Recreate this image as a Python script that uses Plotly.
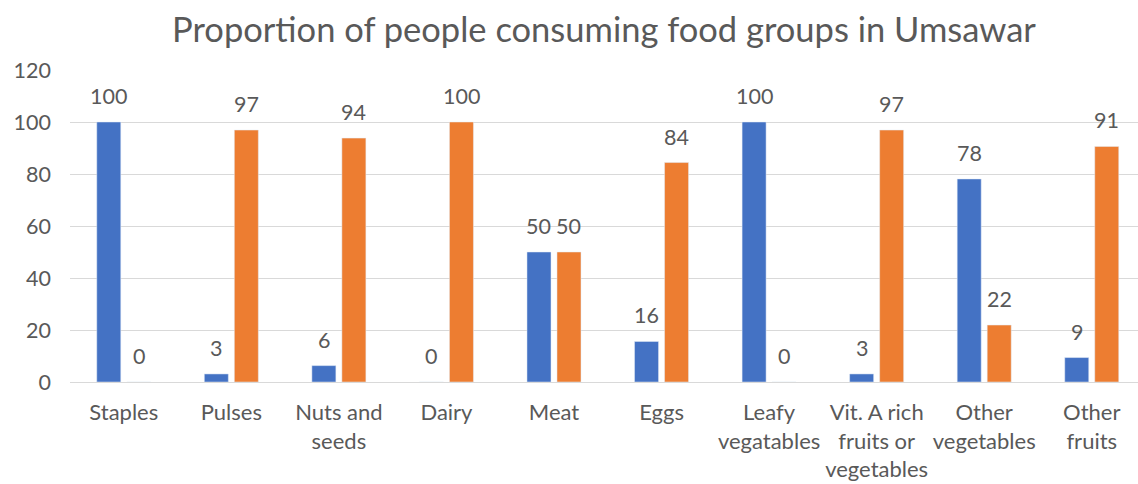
import plotly.graph_objects as go

categories = ["Staples", "Pulses", "Nuts and<br>seeds", "Dairy", "Meat", "Eggs",
              "Leafy<br>vegatables", "Vit. A rich<br>fruits or<br>vegetables",
              "Other<br>vegetables", "Other<br>fruits"]
series_a = [100, 3.1, 6.3, 0, 50, 15.6, 100, 3.1, 78.1, 9.4]
series_b = [0, 96.9, 93.8, 100, 50, 84.4, 0, 96.9, 21.9, 90.6]
y_ticks = [0, 20, 40, 60, 80, 100, 120]

BLUE = "#4472C4"
ORANGE = "#ED7D31"
TXT = "#595959"
FONT = "Lato"

fig = go.Figure()
fig.add_trace(go.Bar(x=categories, y=series_a, marker_color=BLUE, name="A"))
fig.add_trace(go.Bar(x=categories, y=series_b, marker_color=ORANGE, name="B"))

for vals, shift in ((series_a, -15), (series_b, 15)):
    for c, v in zip(categories, vals):
        fig.add_annotation(x=c, y=v, text=f"{v:.0f}", showarrow=False,
                           xshift=shift, yshift=11, yanchor="bottom",
                           font=dict(family=FONT, size=21.5, color=TXT))

fig.update_layout(
    width=1138, height=484,
    margin=dict(l=70, r=0, t=70, b=102),
    paper_bgcolor="white", plot_bgcolor="white",
    showlegend=False,
    barmode="group", bargap=0.442, bargroupgap=0.2,
    title=dict(text="Proportion of people consuming food groups in Umsawar",
               x=0.5, xref="paper", xanchor="center",
               y=1 - 30 / 484, yref="container", yanchor="middle",
               font=dict(family=FONT, size=34.5, color=TXT)),
    font=dict(family=FONT, size=21.5, color=TXT),
)
fig.update_xaxes(range=[-0.5, 9.43], showgrid=False, showline=False, zeroline=False,
                 ticks="", tickangle=0, ticklabelstandoff=15,
                 tickfont=dict(family=FONT, size=22, color=TXT))
fig.update_yaxes(range=[0, 120], tickvals=y_ticks, showgrid=True, gridcolor="#D9D9D9",
                 gridwidth=1, zeroline=True, zerolinecolor="#D9D9D9", zerolinewidth=1,
                 showline=False, ticks="", ticklabelstandoff=18,
                 tickfont=dict(family=FONT, size=21.5, color=TXT))

fig.write_html("out.html")
